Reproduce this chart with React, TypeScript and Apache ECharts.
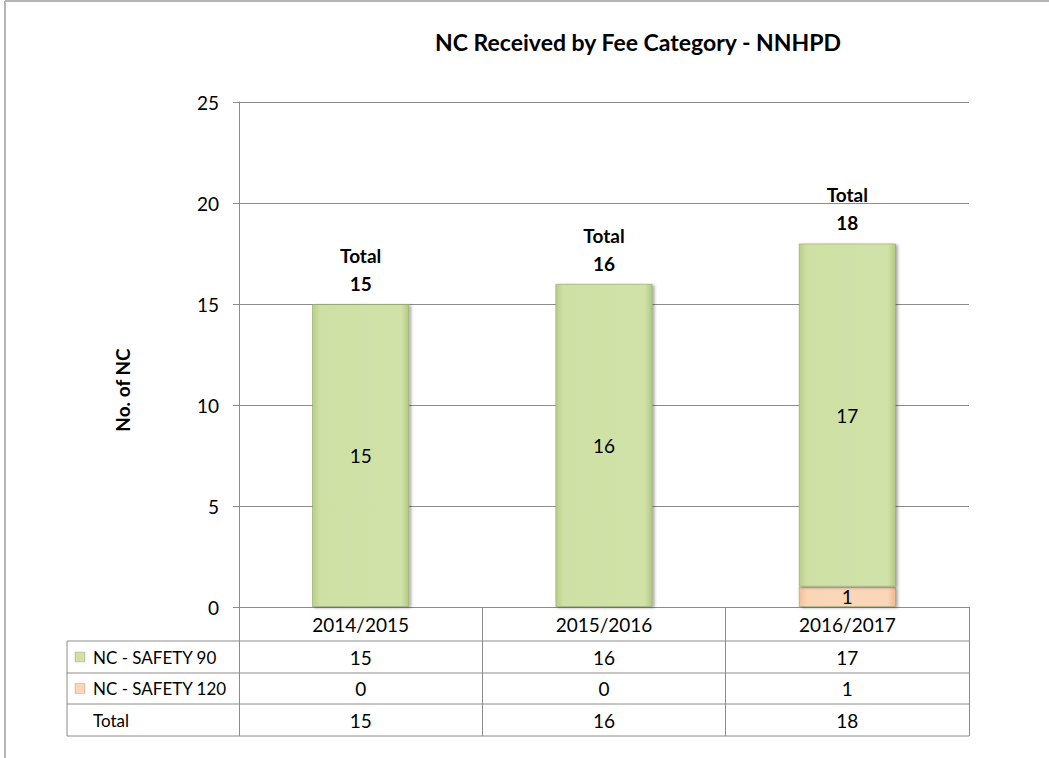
import React, { useEffect, useRef } from "react";
import * as echarts from "echarts";

const titleText = "NC Received by Fee Category - NNHPD";
const yAxisTitle = "No. of NC";
const categories = ["2014/2015", "2015/2016", "2016/2017"];
const seriesNames = ["NC - SAFETY 90", "NC - SAFETY 120"];
const safety90 = [15, 16, 17];
const safety120 = [0, 0, 1];
const totals = [15, 16, 18];
const totalLabel = "Total";
const yMin = 0;
const yMax = 25;
const yInterval = 5;

const FONT = "Lato, 'Noto Sans', sans-serif";
const GRID = { left: 239, right: 80, top: 102, bottom: 151 };
const W = 1049;
const H = 758;
const LINE = "#8c8c8c";
const NUM_SIZE = 19;

const greenGrad = () =>
  new echarts.graphic.LinearGradient(0, 0, 1, 0, [
    { offset: 0, color: "#b9cf88" },
    { offset: 0.08, color: "#cfe0a5" },
    { offset: 0.92, color: "#d1e2a8" },
    { offset: 1, color: "#b3c982" },
  ]);
const peachGrad = () =>
  new echarts.graphic.LinearGradient(0, 0, 1, 0, [
    { offset: 0, color: "#f3bf96" },
    { offset: 0.08, color: "#fbd5b6" },
    { offset: 0.92, color: "#fbd6b8" },
    { offset: 1, color: "#eeb98e" },
  ]);

export default function App() {
  const ref = useRef<HTMLDivElement>(null);
  useEffect(() => {
    if (!ref.current) return;
    const chart = echarts.init(ref.current, undefined, { renderer: "svg" });
    const barItem = (grad: any) => ({
      color: grad,
      borderColor: "rgba(140,160,100,0.55)",
      borderWidth: 1,
      shadowColor: "rgba(0,0,0,0.35)",
      shadowBlur: 3,
      shadowOffsetX: 2,
      shadowOffsetY: 1,
    });
    const innerLabel = {
      show: true,
      position: "inside",
      fontFamily: FONT,
      fontSize: NUM_SIZE,
      color: "#000",
      formatter: (p: any) => (p.value ? String(p.value) : ""),
    };
    chart.setOption({
      animation: false,
      backgroundColor: "#ffffff",
      title: {
        text: titleText,
        left: 633,
        top: 25,
        textAlign: "center",
        textStyle: { fontFamily: FONT, fontSize: 23, fontWeight: "bold", color: "#000" },
      },
      grid: { ...GRID, containLabel: false },
      xAxis: {
        type: "category",
        data: categories,
        axisLine: { show: true, lineStyle: { color: LINE, width: 1 } },
        axisTick: { show: true, length: 129, lineStyle: { color: LINE, width: 1 } },
        axisLabel: { fontFamily: FONT, fontSize: NUM_SIZE, color: "#000", margin: 8 },
        splitLine: { show: false },
      },
      yAxis: {
        type: "value",
        min: yMin,
        max: yMax,
        interval: yInterval,
        axisLine: { show: true, lineStyle: { color: LINE, width: 1 } },
        axisTick: { show: true, length: 6, lineStyle: { color: LINE } },
        axisLabel: { fontFamily: FONT, fontSize: NUM_SIZE, color: "#000", margin: 20 },
        splitLine: { show: true, lineStyle: { color: LINE, width: 1 } },
      },
      series: [
        {
          name: seriesNames[1],
          type: "bar",
          stack: "nc",
          barWidth: "40%",
          data: safety120,
          itemStyle: barItem(peachGrad()),
          label: innerLabel,
        },
        {
          name: seriesNames[0],
          type: "bar",
          stack: "nc",
          barWidth: "40%",
          data: safety90,
          itemStyle: barItem(greenGrad()),
          label: innerLabel,
        },
        {
          name: totalLabel,
          type: "scatter",
          data: totals,
          symbolSize: 1,
          itemStyle: { color: "rgba(255,255,255,0)" },
          emphasis: { disabled: true },
          label: {
            show: true,
            position: "top",
            distance: 6,
            fontFamily: FONT,
            fontSize: NUM_SIZE,
            fontWeight: "bold",
            color: "#000000",
            opacity: 1,
            lineHeight: 28,
            align: "center",
            formatter: (p: any) => `${totalLabel}\n${p.value}`,
          },
        },
      ],
    });

    const colX = categories.map((_, i) => chart.convertToPixel({ xAxisIndex: 0 }, i) as number);
    const axisY = chart.convertToPixel({ yAxisIndex: 0 }, 0) as number;
    const tableLeft = 67;
    const tableRight = W - GRID.right;
    const rowEdges = [axisY + 34, axisY + 66, axisY + 97, axisY + 129];
    const rows = [
      { name: seriesNames[0], vals: safety90, icon: greenGrad() },
      { name: seriesNames[1], vals: safety120, icon: peachGrad() },
      { name: totalLabel, vals: totals, icon: null as any },
    ];
    const g: any[] = [];
    g.push({ type: "line", shape: { x1: 5, y1: 1, x2: W, y2: 1 }, style: { stroke: "#b5b5b5", lineWidth: 2 } });
    g.push({ type: "line", shape: { x1: 5, y1: 1, x2: 5, y2: H }, style: { stroke: "#b5b5b5", lineWidth: 2 } });
    rowEdges.forEach((y) => {
      g.push({ type: "line", shape: { x1: tableLeft, y1: y, x2: tableRight, y2: y }, style: { stroke: LINE, lineWidth: 1 } });
    });
    g.push({ type: "line", shape: { x1: tableLeft, y1: rowEdges[0], x2: tableLeft, y2: rowEdges[3] }, style: { stroke: LINE, lineWidth: 1 } });
    rows.forEach((r, ri) => {
      const cy = (rowEdges[ri] + rowEdges[ri + 1]) / 2;
      if (r.icon) {
        g.push({
          type: "rect",
          shape: { x: 75, y: cy - 5, width: 10, height: 10 },
          style: { fill: r.icon, stroke: "rgba(120,120,120,0.5)", lineWidth: 0.5 },
        });
      }
      g.push({
        type: "text",
        x: 93,
        y: cy,
        style: { text: r.name, fontFamily: FONT, fontSize: 17, fill: "#000", verticalAlign: "middle", align: "left" },
      });
      r.vals.forEach((v, ci) => {
        g.push({
          type: "text",
          x: colX[ci],
          y: cy,
          style: { text: String(v), fontFamily: FONT, fontSize: NUM_SIZE, fill: "#000", verticalAlign: "middle", align: "center" },
        });
      });
    });
    g.push({
      type: "text",
      x: 122,
      y: 390,
      rotation: Math.PI / 2,
      style: { text: yAxisTitle, fontFamily: FONT, fontSize: 19, fontWeight: "bold", fill: "#000", align: "center", verticalAlign: "middle" },
    });
    chart.setOption({ graphic: g });
    return () => chart.dispose();
  }, []);
  return (
    <div
      ref={ref}
      style={{ position: "fixed", left: 0, top: 0, width: W, height: H, background: "#fff" }}
    />
  );
}
